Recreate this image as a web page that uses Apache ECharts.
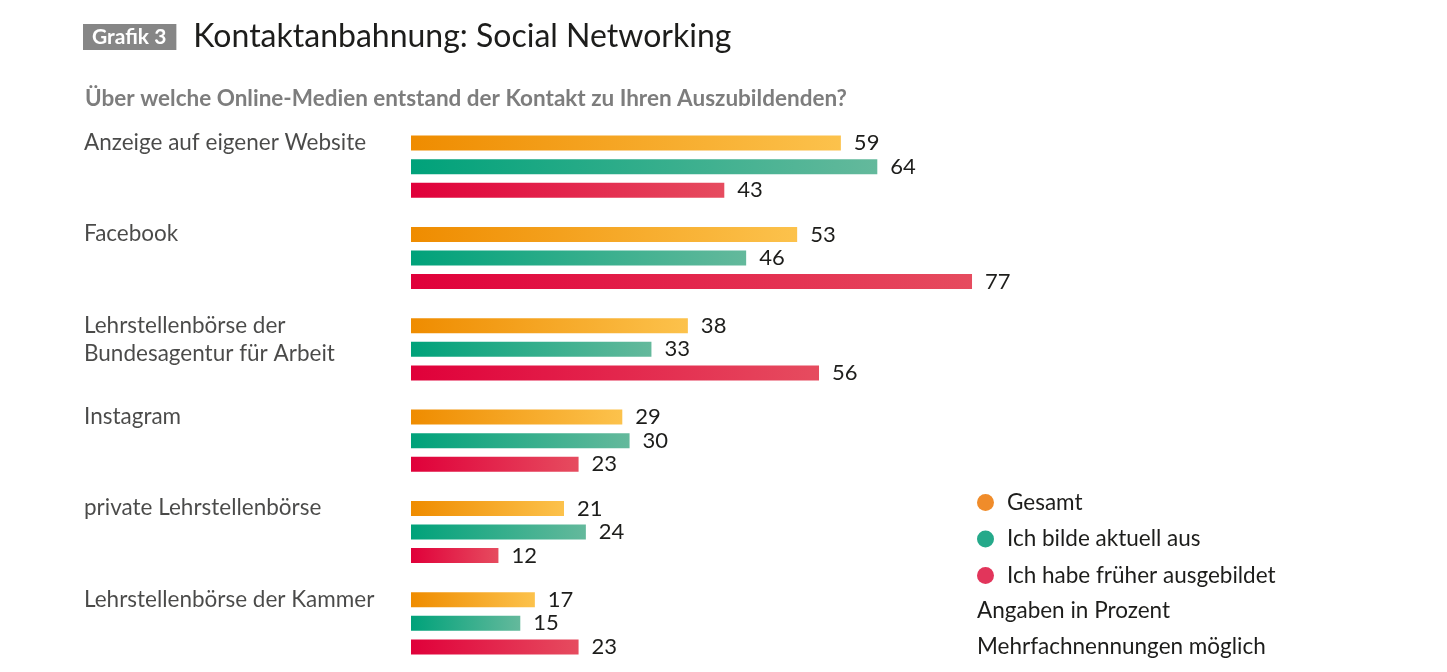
<!DOCTYPE html>
<html><head><meta charset="utf-8">
<script src="https://cdn.jsdelivr.net/npm/echarts@6/dist/echarts.min.js"></script>
<style>html,body{margin:0;padding:0;background:#fff}#c{width:1447px;height:672px}</style>
</head><body><div id="c"></div>
<script>
const categories = ['Anzeige auf eigener Website','Facebook','Lehrstellenbörse der\nBundesagentur für Arbeit','Instagram','private Lehrstellenbörse','Lehrstellenbörse der Kammer'];
const seriesNames = ['Gesamt','Ich bilde aktuell aus','Ich habe früher ausgebildet'];
const gesamt = [59,53,38,29,21,17];
const aktuell = [64,46,33,30,24,15];
const frueher = [43,77,56,23,12,23];
const F = 'Lato, "Open Sans", sans-serif';
const grads = [['#ef8c00','#fcc24c'],['#00a27a','#64b99c'],['#e0003a','#e64c5f']];
const dots = ['#f08c2a','#25a98a','#e2355b'];
function grad(c){return {type:'linear',x:0,y:0,x2:1,y2:0,colorStops:[{offset:0,color:c[0]},{offset:1,color:c[1]}]};}
const vals=[gesamt,aktuell,frueher];
const series = vals.map((v,i)=>({
  name:seriesNames[i], type:'bar', data:v, barWidth:15, barGap:'57%',
  itemStyle:{color:grad(grads[i])},
  label:{show:true,position:'right',distance:13,fontFamily:F,fontSize:22,color:'#1d1d1b'}
}));
series.push({type:'scatter',symbolSize:0,silent:true,data:categories.map(c=>[0,c]),
  label:{show:true,position:'left',distance:0,align:'left',verticalAlign:'top',offset:[-327,-38],
    formatter:p=>p.value[1],fontFamily:F,fontSize:22.5,lineHeight:28,color:'#1d1d1b'}});
const chart = echarts.init(document.getElementById('c'));
chart.setOption({
  animation:false,
  textStyle:{fontFamily:F},
  title:[
    {left:83,top:21,padding:0,text:'{box|Grafik 3}{t|Kontaktanbahnung: Social Networking}',
     textStyle:{rich:{box:{backgroundColor:'#868686',color:'#fff',fontWeight:'bold',fontSize:21,padding:[3,10,2,9],fontFamily:F},
       t:{fontSize:32,fontWeight:'normal',color:'#1d1d1b',fontFamily:F,padding:[0,0,0,17]}}}},
    {left:85,top:87,padding:0,text:'Über welche Online-Medien entstand der Kontakt zu Ihren Auszubildenden?',
     textStyle:{fontSize:22.5,fontWeight:'bold',color:'#7d7d7d',fontFamily:F}},
    {left:977,top:593,padding:0,text:'Angaben in Prozent\nMehrfachnennungen möglich',
     textStyle:{fontSize:22.5,fontWeight:'normal',color:'#1d1d1b',lineHeight:36,fontFamily:F}}
  ],
  legend:{orient:'vertical',left:977,top:491,padding:0,icon:'circle',itemWidth:17,itemHeight:17,itemGap:13.5,
    textStyle:{fontSize:22.5,color:'#1d1d1b',lineHeight:22,fontFamily:F,padding:[0,0,0,8]},
    data:seriesNames.map((n,i)=>({name:n,itemStyle:{color:dots[i]}}))},
  grid:{left:411,top:121,height:548,right:307.4,containLabel:false},
  xAxis:{type:'value',min:0,max:100,show:false},
  yAxis:{type:'category',data:categories,inverse:true,axisLine:{show:false},axisTick:{show:false},axisLabel:{show:false}},
  series:series
});
</script></body></html>
